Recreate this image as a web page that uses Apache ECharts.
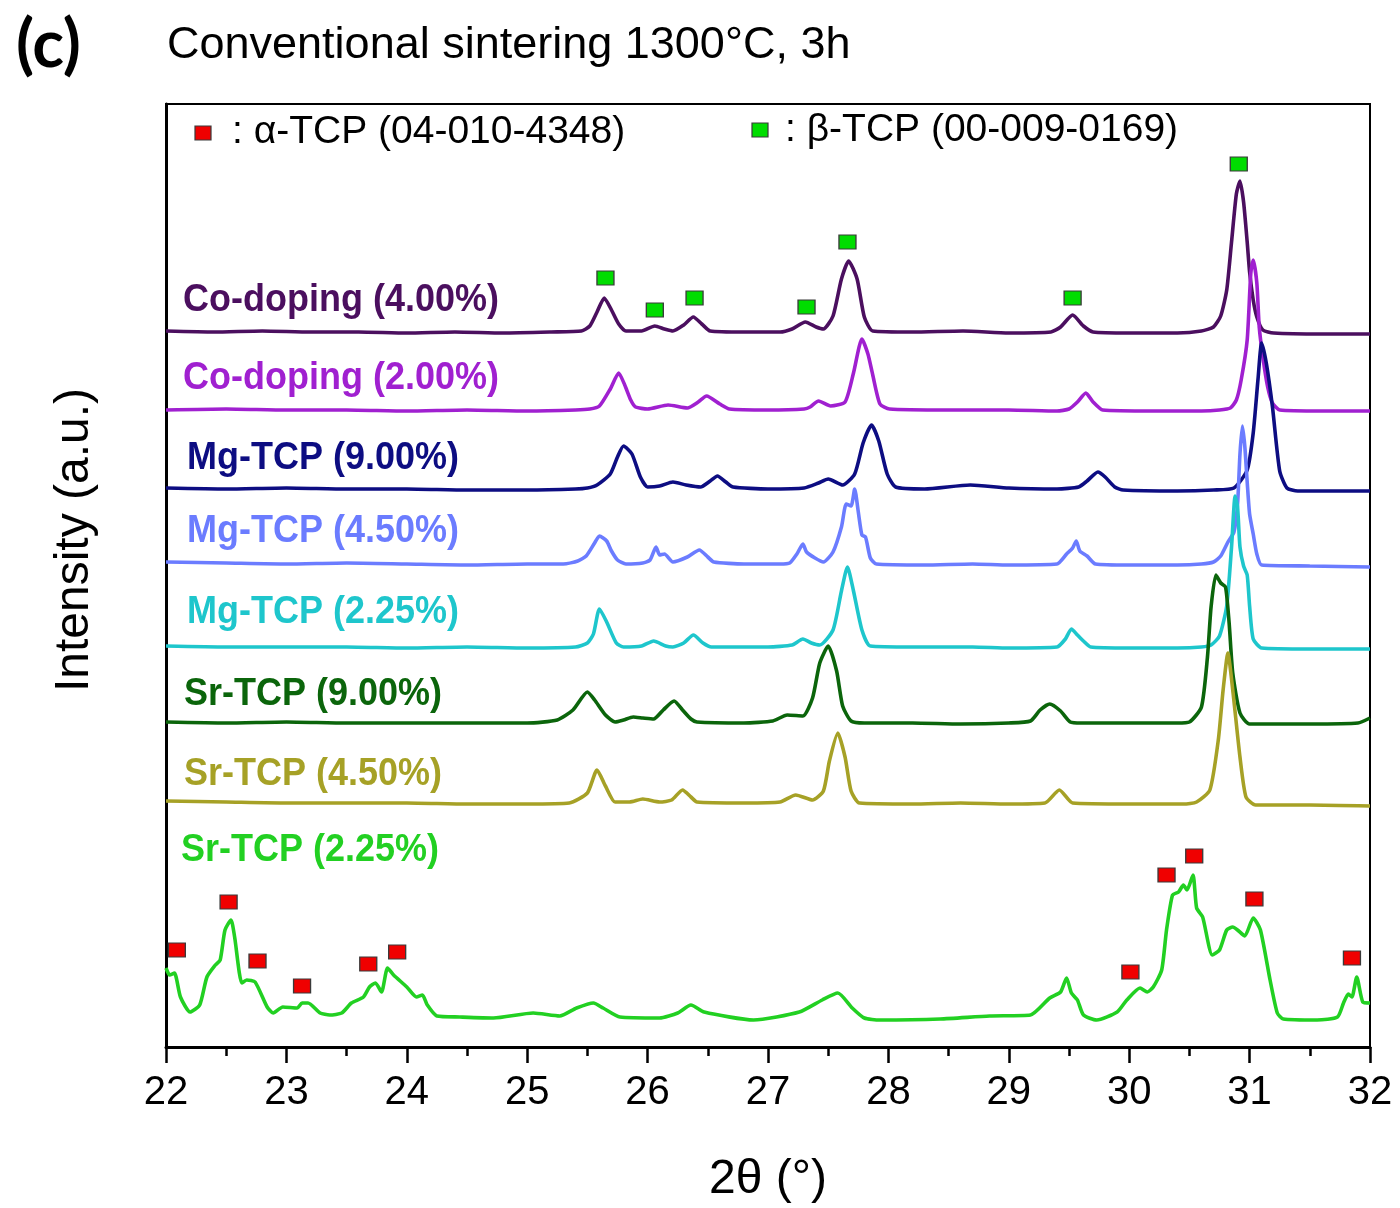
<!DOCTYPE html>
<html>
<head>
<meta charset="utf-8">
<title>XRD patterns – conventional sintering 1300°C, 3h</title>
<script src="https://cdn.jsdelivr.net/npm/echarts@6/dist/echarts.min.js"></script>
<style>
  html, body { margin: 0; padding: 0; background: #fff; }
  #chart { width: 1400px; height: 1208px; }
</style>
</head>
<body>
<div id="chart"></div>
<script>
// ---- Data: 2θ (°) vs. intensity (a.u.), each pattern relative to its own baseline ----
const xTicks = [22, 23, 24, 25, 26, 27, 28, 29, 30, 31, 32];

const sampleNames = [
  'Co-doping (4.00%)', 'Co-doping (2.00%)', 'Mg-TCP (9.00%)', 'Mg-TCP (4.50%)',
  'Mg-TCP (2.25%)', 'Sr-TCP (9.00%)', 'Sr-TCP (4.50%)', 'Sr-TCP (2.25%)'
];

// vertical stacking offsets (a.u.)
const offsets = [715, 637, 558, 483, 400, 324, 244, 29];

const coDoping400 = [[22.0,1],[22.4,0],[22.8,1],[23.2,0],[23.6,0],[24.0,-1],[24.4,0],[24.8,-1],[25.2,0],[25.45,1],[25.52,6],[25.58,20],[25.64,34],[25.7,22],[25.76,8],[25.82,1],[25.95,1],[26.06,6],[26.14,3],[26.21,1],[26.3,7],[26.38,15],[26.45,8],[26.52,1],[26.8,0],[27.1,0],[27.2,3],[27.31,10],[27.4,5],[27.46,3],[27.54,16],[27.61,53],[27.67,71],[27.74,53],[27.8,15],[27.87,1],[28.2,0],[28.62,1],[29.0,-1],[29.35,0],[29.43,5],[29.53,17],[29.62,6],[29.7,0],[30.0,-1],[30.4,-1],[30.6,1],[30.7,5],[30.76,16],[30.81,42],[30.85,90],[30.89,138],[30.92,151],[30.95,130],[30.98,90],[31.0,60],[31.03,32],[31.06,15],[31.11,2],[31.2,-1],[31.6,-2],[32.0,-2]];

const coDoping200 = [[22.0,0],[22.5,1],[23.0,0],[23.5,0],[24.0,-1],[24.5,0],[25.0,-1],[25.4,0],[25.52,1],[25.6,4],[25.69,21],[25.76,37],[25.81,25],[25.86,10],[25.9,3],[26.0,1],[26.17,5],[26.33,2],[26.42,8],[26.49,14],[26.6,6],[26.68,1],[27.0,0],[27.3,1],[27.35,3],[27.42,9],[27.52,4],[27.64,8],[27.71,37],[27.78,71],[27.83,56],[27.87,35],[27.93,6],[28.01,1],[28.5,0],[29.0,0],[29.4,-1],[29.5,1],[29.57,8],[29.64,17],[29.7,8],[29.78,0],[30.2,-1],[30.6,-1],[30.75,0],[30.84,2],[30.89,10],[30.93,30],[30.98,70],[31.01,137],[31.03,150],[31.06,127],[31.08,83],[31.11,53],[31.15,23],[31.19,7],[31.25,0],[31.6,-1],[32.0,-1]];

const mgTcp900 = [[22.0,1],[22.5,0],[23.0,1],[23.5,0],[24.0,0],[24.5,-1],[25.0,-1],[25.4,0],[25.5,1],[25.58,4],[25.69,15],[25.75,32],[25.8,43],[25.87,35],[25.94,12],[26.0,2],[26.1,3],[26.21,7],[26.32,4],[26.44,2],[26.52,8],[26.58,13],[26.65,7],[26.71,2],[27.0,0],[27.3,1],[27.42,6],[27.5,10],[27.62,4],[27.72,15],[27.79,46],[27.86,64],[27.92,48],[27.99,15],[28.06,2],[28.3,0],[28.68,4],[29.0,1],[29.4,0],[29.58,2],[29.65,8],[29.74,17],[29.8,12],[29.88,2],[29.95,-1],[30.4,-2],[30.7,-1],[30.87,1],[30.98,19],[31.03,56],[31.07,110],[31.1,146],[31.14,125],[31.19,82],[31.25,18],[31.31,1],[31.4,-2],[32.0,-2]];

const mgTcp450 = [[22.0,2],[22.5,1],[23.0,0],[23.5,1],[24.0,0],[24.5,-1],[25.0,0],[25.3,0],[25.42,3],[25.49,8],[25.56,21],[25.6,28],[25.66,23],[25.7,13],[25.75,4],[25.82,0],[25.96,1],[26.02,4],[26.07,17],[26.1,9],[26.14,10],[26.21,2],[26.33,7],[26.43,14],[26.5,7],[26.55,2],[26.8,0],[27.1,0],[27.18,1],[27.24,10],[27.29,20],[27.32,12],[27.39,6],[27.46,2],[27.54,12],[27.61,37],[27.65,60],[27.69,58],[27.72,75],[27.75,52],[27.78,29],[27.81,27],[27.85,6],[27.9,0],[28.3,-1],[28.7,0],[29.0,-1],[29.4,0],[29.48,10],[29.53,16],[29.56,23],[29.59,13],[29.65,8],[29.72,0],[30.0,-1],[30.4,-1],[30.6,0],[30.7,2],[30.76,8],[30.82,22],[30.87,32],[30.9,60],[30.92,110],[30.94,138],[30.96,118],[30.98,82],[31.0,50],[31.03,30],[31.06,10],[31.1,-1],[31.5,-2],[32.0,-3]];

const mgTcp225 = [[22.0,1],[22.5,0],[23.0,0],[23.5,0],[24.0,-1],[24.5,0],[25.0,-1],[25.4,0],[25.5,4],[25.55,13],[25.6,38],[25.66,25],[25.74,4],[25.8,0],[25.95,1],[26.05,6],[26.15,1],[26.21,0],[26.3,4],[26.38,12],[26.46,4],[26.53,0],[27.0,0],[27.2,2],[27.29,8],[27.36,4],[27.43,2],[27.54,17],[27.61,56],[27.66,80],[27.71,56],[27.78,17],[27.85,1],[28.2,0],[28.7,0],[29.0,-1],[29.4,0],[29.47,8],[29.52,18],[29.57,12],[29.62,6],[29.68,0],[30.0,-1],[30.4,-1],[30.6,0],[30.68,2],[30.75,11],[30.81,41],[30.85,100],[30.88,151],[30.9,140],[30.92,100],[30.95,81],[30.98,72],[31.0,41],[31.03,8],[31.1,-1],[31.5,-2],[32.0,-2]];

const srTcp900 = [[22.0,1],[22.5,0],[23.0,1],[23.5,0],[24.0,0],[24.5,0],[25.0,0],[25.25,3],[25.38,13],[25.5,31],[25.56,23],[25.65,8],[25.73,1],[25.8,3],[25.88,6],[25.96,5],[26.05,4],[26.13,13],[26.22,22],[26.29,13],[26.36,4],[26.41,1],[26.8,0],[27.04,2],[27.16,8],[27.29,7],[27.37,25],[27.43,60],[27.5,77],[27.57,52],[27.62,17],[27.69,2],[27.8,0],[28.2,0],[28.6,-1],[29.0,0],[29.18,2],[29.26,13],[29.34,19],[29.43,12],[29.51,1],[29.6,0],[30.0,0],[30.4,0],[30.5,1],[30.6,16],[30.65,66],[30.68,116],[30.72,148],[30.76,140],[30.8,136],[30.83,100],[30.86,50],[30.92,10],[31.0,-1],[31.5,-1],[31.9,0],[32.0,5]];

const srTcp450 = [[22.0,2],[22.5,1],[23.0,0],[23.5,0],[24.0,0],[24.5,-1],[25.0,-1],[25.35,0],[25.5,10],[25.58,33],[25.65,17],[25.73,1],[25.85,1],[25.96,4],[26.1,1],[26.2,3],[26.29,13],[26.36,6],[26.41,1],[26.8,0],[27.1,1],[27.23,8],[27.37,3],[27.46,12],[27.51,42],[27.58,70],[27.64,46],[27.69,12],[27.76,0],[28.2,-1],[28.6,0],[29.0,-1],[29.3,0],[29.42,13],[29.53,0],[30.0,-1],[30.45,-1],[30.56,1],[30.67,13],[30.74,63],[30.78,113],[30.82,150],[30.86,113],[30.92,46],[30.97,6],[31.05,-2],[31.5,-2],[32.0,-3]];

const srTcp225 = [[22.0,50],[22.03,43],[22.07,45],[22.12,21],[22.2,6],[22.28,13],[22.34,41],[22.41,53],[22.45,58],[22.49,88],[22.54,98],[22.57,81],[22.63,35],[22.67,38],[22.74,36],[22.84,11],[22.89,5],[22.97,11],[23.09,10],[23.13,15],[23.18,15],[23.28,5],[23.36,3],[23.46,5],[23.54,15],[23.64,21],[23.69,31],[23.74,35],[23.79,26],[23.84,50],[23.89,43],[24.0,31],[24.08,21],[24.13,23],[24.17,13],[24.25,2],[24.44,1],[24.72,0],[25.05,5],[25.27,2],[25.41,10],[25.55,15],[25.63,10],[25.77,1],[26.1,0],[26.25,5],[26.36,13],[26.47,6],[26.88,-2],[27.26,6],[27.45,18],[27.58,25],[27.7,10],[27.8,0],[27.93,-2],[28.43,-1],[28.84,2],[29.18,3],[29.34,20],[29.43,26],[29.48,40],[29.52,25],[29.57,18],[29.62,3],[29.73,-2],[29.9,6],[29.98,18],[30.09,30],[30.15,26],[30.2,31],[30.27,48],[30.31,88],[30.36,123],[30.41,126],[30.45,133],[30.48,128],[30.53,143],[30.56,110],[30.61,101],[30.69,63],[30.75,68],[30.81,88],[30.86,91],[30.9,88],[30.96,82],[31.03,100],[31.09,88],[31.17,38],[31.23,5],[31.28,-1],[31.56,-2],[31.73,1],[31.78,15],[31.82,24],[31.85,21],[31.89,41],[31.94,16],[32.0,15]];

const patterns = [coDoping400, coDoping200, mgTcp900, mgTcp450, mgTcp225, srTcp900, srTcp450, srTcp225];

// reference peak markers, [2θ, intensity]
const alphaTcpMarks = [[22.09,97],[22.52,145],[22.76,86],[23.13,61],[23.68,83],[23.92,95],[30.01,75],[30.31,172],[30.54,191],[31.04,148],[31.85,89]];
const betaTcpMarks = [[25.65,769],[26.06,737],[26.39,749],[27.32,740],[27.66,805],[29.53,749],[30.91,883]];

// ---- Styles ----
const colors = ['#4b0f5f', '#a020d0', '#0d0d82', '#6b7cff', '#1ec6cc', '#0b650b', '#a6a126', '#22d022'];
const labelPos = [[183, 300], [183, 378], [187, 458], [187, 531], [187, 612], [184, 694], [184, 774], [181, 850]];
const FONT = '"Liberation Sans", Arial, Helvetica, sans-serif';

const chart = echarts.init(document.getElementById('chart'), null, { renderer: 'canvas' });

const lineSeries = patterns.map((pts, i) => ({
  name: sampleNames[i],
  type: 'line',
  data: pts.map(p => [p[0], p[1] + offsets[i]]),
  showSymbol: false,
  smooth: 0.2,
  lineStyle: { color: colors[i], width: 3.6 },
  z: 2 + i,
  silent: true
}));

const markSeries = [
  { data: alphaTcpMarks, color: '#f00000' },
  { data: betaTcpMarks, color: '#00dd00' }
].map(m => ({
  type: 'scatter',
  data: m.data,
  symbol: 'rect',
  symbolSize: [17, 14],
  itemStyle: { color: m.color, borderColor: '#3a3a3a', borderWidth: 1.2, opacity: 1 },
  z: 20,
  silent: true
}));

const graphics = [
  { type: 'text', x: 16, y: 46, style: { text: '(c)', font: 'bold 66px Lato, "Open Sans", sans-serif', fill: '#000', textVerticalAlign: 'middle' } },
  { type: 'text', x: 167, y: 46, style: { text: 'Conventional sintering 1300°C, 3h', font: '45px ' + FONT, fill: '#000', textVerticalAlign: 'middle' } },
  // legend
  { type: 'rect', shape: { x: 195, y: 126, width: 16, height: 14 }, style: { fill: '#f00000', stroke: '#3a3a3a', lineWidth: 1.2 } },
  { type: 'text', x: 232, y: 132, style: { text: ': α-TCP (04-010-4348)', font: '39px ' + FONT, fill: '#000', textVerticalAlign: 'middle' } },
  { type: 'rect', shape: { x: 752, y: 123, width: 16, height: 14 }, style: { fill: '#00dd00', stroke: '#3a3a3a', lineWidth: 1.2 } },
  { type: 'text', x: 785, y: 130, style: { text: ': β-TCP (00-009-0169)', font: '39px ' + FONT, fill: '#000', textVerticalAlign: 'middle' } },
  // axis titles
  { type: 'text', x: 768, y: 1180, style: { text: '2θ (°)', font: '48px ' + FONT, fill: '#000', textAlign: 'center', textVerticalAlign: 'middle' } },
  { type: 'text', x: 75, y: 540, rotation: Math.PI / 2, style: { text: 'Intensity (a.u.)', font: '48px ' + FONT, fill: '#000', textAlign: 'center', textVerticalAlign: 'middle' } }
].concat(sampleNames.map((name, i) => ({
  type: 'text', x: labelPos[i][0], y: labelPos[i][1], z: 50, scaleY: 1.1,
  style: { text: name, font: 'bold 36px ' + FONT, fill: colors[i], textVerticalAlign: 'middle' }
})));

chart.setOption({
  animation: false,
  backgroundColor: '#fff',
  grid: { left: 166, right: 30, top: 104, bottom: 161, show: true, borderColor: '#000', borderWidth: 2, backgroundColor: 'transparent' },
  xAxis: {
    type: 'value',
    min: xTicks[0],
    max: xTicks[xTicks.length - 1],
    interval: 1,
    axisLine: { lineStyle: { color: '#000', width: 3 } },
    axisTick: { show: true, inside: false, length: 16, lineStyle: { color: '#000', width: 2.5 } },
    minorTick: { show: true, splitNumber: 2, length: 9, lineStyle: { color: '#000', width: 2.5 } },
    axisLabel: { color: '#000', fontSize: 40, fontFamily: FONT, margin: 26 },
    splitLine: { show: false },
    minorSplitLine: { show: false }
  },
  yAxis: {
    type: 'value',
    min: 0,
    max: 943,
    axisLine: { show: true, lineStyle: { color: '#000', width: 3 } },
    axisTick: { show: false },
    axisLabel: { show: false },
    splitLine: { show: false }
  },
  series: lineSeries.concat(markSeries),
  graphic: graphics
});
</script>
</body>
</html>
